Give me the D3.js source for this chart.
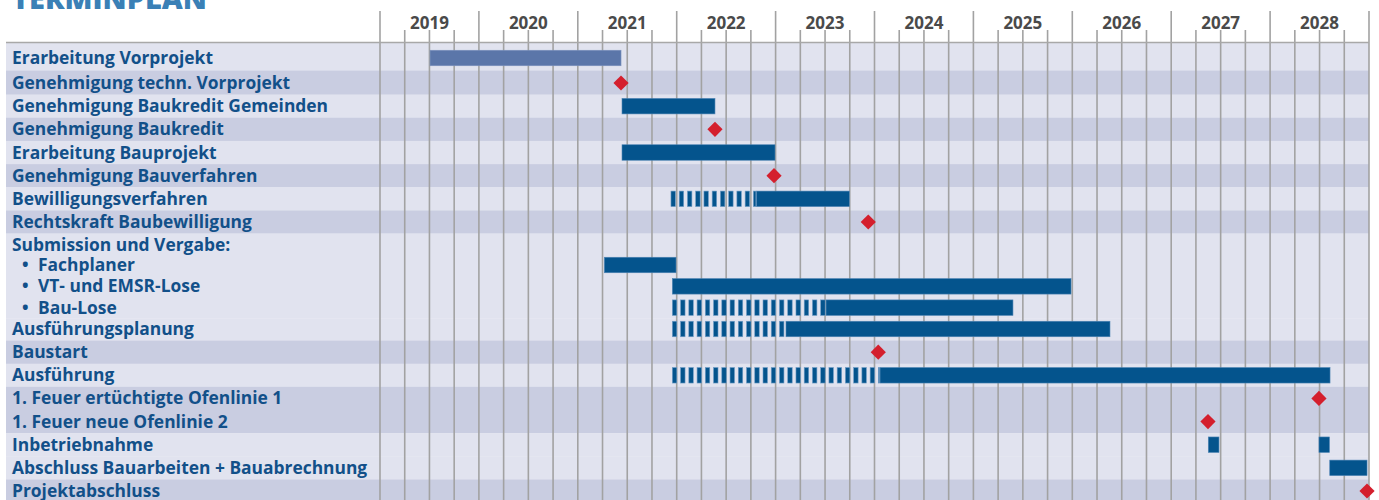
<!DOCTYPE html>
<html><head><meta charset="utf-8">
<script src="https://cdn.jsdelivr.net/npm/d3@7"></script>
<style>body{margin:0;background:#fff}svg{display:block}</style>
</head><body>
<svg id="chart" width="1379" height="500"></svg>
<script>
// ---------- data ----------
const title = "TERMINPLAN";
const years = [2019, 2020, 2021, 2022, 2023, 2024, 2025, 2026, 2027, 2028];
const rowLabels = [
  "Erarbeitung Vorprojekt",
  "Genehmigung techn. Vorprojekt",
  "Genehmigung Baukredit Gemeinden",
  "Genehmigung Baukredit",
  "Erarbeitung Bauprojekt",
  "Genehmigung Bauverfahren",
  "Bewilligungsverfahren",
  "Rechtskraft Baubewilligung",
  "Submission und Vergabe:",
  "Fachplaner",
  "VT- und EMSR-Lose",
  "Bau-Lose",
  "Ausführungsplanung",
  "Baustart",
  "Ausführung",
  "1. Feuer ertüchtigte Ofenlinie 1",
  "1. Feuer neue Ofenlinie 2",
  "Inbetriebnahme",
  "Abschluss Bauarbeiten + Bauabrechnung",
  "Projektabschluss"
];
const bulletLabels = ["Fachplaner", "VT- und EMSR-Lose", "Bau-Lose"];
// shading group of each row (alternating light / dark)
const rowGroup = [0,1,2,3,4,5,6,7,8,8,8,8,8,9,10,11,11,12,12,13];

// bars (decimal years)
const taskRow   = ["Erarbeitung Vorprojekt","Genehmigung Baukredit Gemeinden","Erarbeitung Bauprojekt","Bewilligungsverfahren","Fachplaner","VT- und EMSR-Lose","Bau-Lose","Ausführungsplanung","Ausführung","Inbetriebnahme","Inbetriebnahme","Abschluss Bauarbeiten + Bauabrechnung"];
const taskStart = [2019.506, 2021.447, 2021.447, 2022.805, 2021.268, 2021.956, 2023.510, 2023.105, 2024.056, 2027.375, 2028.494, 2028.603];
const taskEnd   = [2021.437, 2022.387, 2022.994, 2023.745, 2021.993, 2025.987, 2025.400, 2026.381, 2028.606, 2027.483, 2028.600, 2028.980];
const taskPrep  = [null, null, null, 2021.942, null, null, 2021.956, 2021.956, 2021.956, null, null, null];
const taskPale  = [true, false, false, false, false, false, false, false, false, false, false, false];

// milestones
const msRow  = ["Genehmigung techn. Vorprojekt","Genehmigung Baukredit","Genehmigung Bauverfahren","Rechtskraft Baubewilligung","Baustart","1. Feuer ertüchtigte Ofenlinie 1","1. Feuer neue Ofenlinie 2","Projektabschluss"];
const msDate = [2021.437, 2022.387, 2022.984, 2023.937, 2024.038, 2028.494, 2027.372, 2028.980];

// ---------- layout ----------
const svg = d3.select("#chart");
const W = 1379, H = 500;
const left = 6, chartL = 380, chartR = 1369, headerY = 42.5;
const x = d3.scaleLinear().domain([2019, 2029]).range([chartL, chartR]);
const yIdx = d3.scaleLinear().domain([0,1,7,8,9,12,19]).range([58,83,222,245,265,329,491]);
const rowIndex = name => rowLabels.indexOf(name);
const y = name => yIdx(rowIndex(name));

const colLight = "#e1e3ef", colDark = "#c9cde1";
const blue = "#04548d", pale = "#5b76a9", red = "#d41f2d", txt = "#125089";
const grid = "#a2a2a2";

// bands
const bands = rowLabels.map((l, i) => {
  const top = i === 0 ? headerY + 0.5 : (yIdx(i - 1) + yIdx(i)) / 2;
  const bot = i === rowLabels.length - 1 ? H : (yIdx(i) + yIdx(i + 1)) / 2;
  return {top, bot, g: rowGroup[i]};
});
svg.append("g").selectAll("rect").data(bands).join("rect")
  .attr("x", left).attr("width", chartR - left)
  .attr("y", d => d.top).attr("height", d => d.bot - d.top + 0.3)
  .attr("fill", d => d.g % 2 === 0 ? colLight : colDark);

// grid lines
const quarters = d3.range(0, 41).map(i => 2019 + i / 4);
svg.append("g").selectAll("line").data(quarters).join("line")
  .attr("x1", d => x(d)).attr("x2", d => x(d))
  .attr("y1", d => Number.isInteger(d) ? 11 : 30).attr("y2", H)
  .attr("stroke", grid).attr("stroke-width", 1.6);

// header line
svg.append("line").attr("x1", left).attr("x2", chartR).attr("y1", headerY).attr("y2", headerY)
  .attr("stroke", "#a8a8a8").attr("stroke-width", 1.6);

// year labels
svg.append("g").selectAll("text").data(years).join("text")
  .attr("x", d => (x(d) + x(d + 1)) / 2).attr("y", 28.5)
  .attr("text-anchor", "middle")
  .attr("font-family", "Open Sans, sans-serif").attr("font-weight", 700)
  .attr("font-size", 17).attr("fill", "#4a4a4a")
  .text(d => d);

// title
const t = svg.append("text").attr("x", 12).attr("y", 9)
  .attr("font-family", "Open Sans, sans-serif").attr("font-weight", 800)
  .attr("font-size", 28).attr("fill", "#3a80b6").text(title);
t.attr("font-size", 28 * 195 / t.node().getComputedTextLength());

// row labels
const lg = svg.append("g").attr("font-family", "Open Sans, sans-serif")
  .attr("font-weight", 700).attr("fill", txt);
const labs = lg.selectAll("text.lab").data(rowLabels).join("text").attr("class", "lab")
  .attr("x", d => bulletLabels.includes(d) ? 38 : 12)
  .attr("y", (d, i) => yIdx(i) + 6)
  .attr("font-size", 16)
  .text(d => d);
const longest = labs.filter(d => d === "Abschluss Bauarbeiten + Bauabrechnung").node().getComputedTextLength();
const fs = 16 * 355.5 / longest;
labs.attr("font-size", fs);
lg.selectAll("text.bul").data(bulletLabels).join("text").attr("class", "bul")
  .attr("x", 22).attr("y", d => y(d) + 6).attr("font-size", fs).text("•");

// bars
const tasks = taskRow.map((r, i) => ({row: r, s: taskStart[i], e: taskEnd[i], p: taskPrep[i], pale: taskPale[i]}));
const barH = 15.5;
const bg = svg.append("g");
bg.selectAll("rect").data(tasks).join("rect")
  .attr("x", d => x(d.s)).attr("width", d => x(d.e) - x(d.s))
  .attr("y", d => y(d.row) - barH / 2).attr("height", barH)
  .attr("fill", d => d.pale ? pale : blue)
  .attr("stroke", d => d.pale ? "#7c93bd" : "#4f85b5").attr("stroke-width", 0.6);

// hatched preparation phases (monthly stripes)
const stripes = [];
tasks.filter(d => d.p !== null).forEach(d => {
  for (let m = d.p; m < d.s - 0.004; m += 1 / 12) {
    stripes.push({row: d.row, a: m, b: Math.min(m + 0.045, d.s - 0.004)});
  }
});
bg.selectAll("rect.str").data(stripes).join("rect").attr("class", "str")
  .attr("x", d => x(d.a)).attr("width", d => x(d.b) - x(d.a))
  .attr("y", d => y(d.row) - barH / 2).attr("height", barH)
  .attr("fill", blue).attr("stroke", "#6e9cc6").attr("stroke-width", 0.6);

// milestones
const ms = msRow.map((r, i) => ({row: r, d: msDate[i]}));
const dia = 7.6;
svg.append("g").selectAll("path").data(ms).join("path")
  .attr("d", d => {
    const cx = x(d.d), cy = y(d.row);
    return `M${cx},${cy - dia}L${cx + dia},${cy}L${cx},${cy + dia}L${cx - dia},${cy}Z`;
  })
  .attr("fill", red);
</script>
</body></html>
